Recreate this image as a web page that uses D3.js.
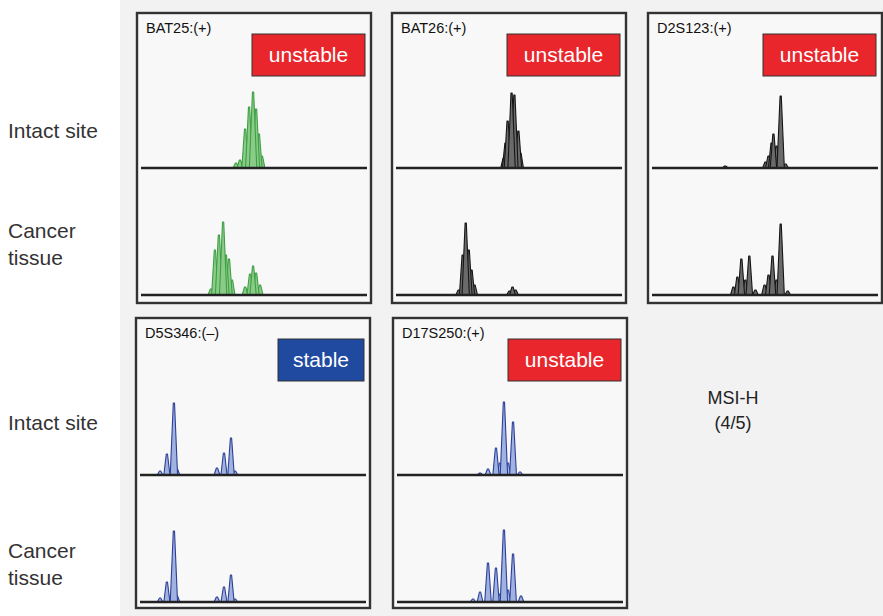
<!DOCTYPE html>
<html><head><meta charset="utf-8">
<script src="https://cdn.jsdelivr.net/npm/d3@7"></script>
<style>
html,body{margin:0;padding:0;background:#fff;}
svg{display:block;font-family:"Liberation Sans",Arial,Helvetica,sans-serif;}
</style></head>
<body><svg id="chart" width="883" height="616"></svg>
<script>
// ---- data ----
const markers = ["BAT25:(+)", "BAT26:(+)", "D2S123:(+)", "D5S346:(\u2013)", "D17S250:(+)"];
const statuses = ["unstable", "unstable", "unstable", "stable", "unstable"];
const rowLabels = [["Intact site"], ["Cancer", "tissue"]];
const summaryLabel = ["MSI-H", "(4/5)"];
// peaks: [relative position (0-100 across panel), peak height]
const bat25Intact = [[42.3,5],[44.0,8],[46.2,39],[47.9,61],[49.6,76],[50.9,59],[52.1,34],[53.4,12]];
const bat25Cancer = [[31.6,6],[33.3,45],[35.0,60],[36.8,73],[38.0,40],[39.3,36],[40.6,15],[46.2,8],[48.3,21],[49.6,29],[50.9,22],[52.6,10]];
const bat26Intact = [[47.7,10],[48.5,25],[49.4,47],[51.1,75],[52.3,73],[54.0,37],[54.9,15]];
const bat26Cancer = [[28.5,5],[30.2,40],[31.5,72],[32.8,45],[34.0,25],[35.3,10],[50.2,4],[51.5,8],[52.8,5]];
const d2s123Intact = [[33.0,2],[50.2,6],[51.5,12],[52.8,25],[53.6,34],[54.9,22],[56.7,72],[58.8,4]];
const d2s123Cancer = [[36.5,8],[38.2,18],[39.9,36],[41.6,15],[43.3,39],[45.9,5],[49.8,10],[51.5,20],[53.2,39],[54.9,15],[56.7,71],[59.7,4]];
const d5s346Intact = [[10.3,4],[13.2,21],[16.2,72],[17.5,6],[34.6,7],[37.6,22],[40.6,37],[42.3,4]];
const d5s346Cancer = [[10.3,4],[13.2,20],[16.2,71],[17.5,6],[34.6,5],[37.6,15],[40.6,27],[42.3,3]];
const d17s250Intact = [[37.2,2],[40.6,6],[44.0,27],[45.7,12],[47.4,73],[49.1,12],[51.3,53],[54.3,3]];
const d17s250Cancer = [[34.2,3],[37.2,10],[40.6,39],[44.0,34],[45.7,8],[47.4,72],[49.1,12],[51.3,48],[54.7,6]];

const intactTraces = [bat25Intact, bat26Intact, d2s123Intact, d5s346Intact, d17s250Intact];
const cancerTraces = [bat25Cancer, bat26Cancer, d2s123Cancer, d5s346Cancer, d17s250Cancer];
const dyes = ["green", "black", "black", "blue", "blue"];

// ---- styling / layout ----
const dyeStyle = {
  green: {fill: "#8acb88", stroke: "#3f9f45"},
  black: {fill: "#6a6a6a", stroke: "#151515"},
  blue:  {fill: "#9fb2e0", stroke: "#2e3f98"}
};
const statusColor = {unstable: "#e8262c", stable: "#1f4aa0"};
const panelPos = [[137,13],[392,13],[648,13],[136,318],[393,318]];
const panelW = 234, panelH = 290;
const baseY = [155, 282];
const peakHalf = 2.8;

const svg = d3.select("#chart");
svg.append("rect").attr("x",120).attr("y",0).attr("width",763).attr("height",616).attr("fill","#f2f2f2");

const x = d3.scaleLinear().domain([0,100]).range([0,panelW]);
const h = d3.scaleLinear().domain([0,80]).range([0,80]);

markers.forEach((m,i)=>{
  const [px,py] = panelPos[i];
  const g = svg.append("g").attr("transform",`translate(${px},${py})`);
  g.append("rect").attr("x",0).attr("y",0).attr("width",panelW).attr("height",panelH)
    .attr("fill","#f8f8f8").attr("stroke","#333").attr("stroke-width",2.4);
  g.append("text").attr("x",9).attr("y",15).attr("dy","0.35em").attr("font-size",14.5).attr("fill","#111").text(m);
  const bw = statuses[i]==="stable" ? 86 : 113;
  const bx = panelW-6-bw;
  g.append("rect").attr("x",bx).attr("y",21).attr("width",bw).attr("height",42)
    .attr("fill",statusColor[statuses[i]]).attr("stroke","#333").attr("stroke-width",1);
  g.append("text").attr("x",bx+bw/2).attr("y",42).attr("dy","0.35em").attr("text-anchor","middle")
    .attr("font-size",21).attr("fill","#fff").text(statuses[i]);

  const st = dyeStyle[dyes[i]];
  [intactTraces[i], cancerTraces[i]].forEach((tr,k)=>{
    const by = baseY[k] + (i>=3 ? 2 : 0);
    const tg = g.append("g");
    tg.selectAll("path.pk").data(tr.slice().sort((a,b)=>a[1]-b[1])).join("path")
      .attr("class","pk")
      .attr("d", d => {
        const cx = x(d[0]), top = by - h(d[1]);
        const w = peakHalf + h(d[1])*0.012;
        return `M${cx-w},${by} L${cx-0.6},${top} L${cx+0.6},${top} L${cx+w},${by} Z`;
      })
      .attr("fill", st.fill).attr("stroke", st.stroke).attr("stroke-width",1.1)
      .attr("stroke-linejoin","round");
    tg.append("line").attr("x1",4).attr("x2",panelW-4).attr("y1",by).attr("y2",by)
      .attr("stroke","#222").attr("stroke-width",2.4);
  });
});

// row labels
const rowCenters = [[131, 244], [423, 564]];
rowCenters.forEach(rc=>{
  rc.forEach((cy,k)=>{
    const lines = rowLabels[k];
    lines.forEach((t,j)=>{
      svg.append("text").attr("x",8).attr("y", cy + (j-(lines.length-1)/2)*27)
        .attr("dy","0.35em").attr("font-size",21).attr("fill","#333").text(t);
    });
  });
});

summaryLabel.forEach((t,j)=>{
  svg.append("text").attr("x",733).attr("y",398 + j*25).attr("dy","0.35em")
    .attr("text-anchor","middle").attr("font-size",18).attr("fill","#222").text(t);
});
</script></body></html>
